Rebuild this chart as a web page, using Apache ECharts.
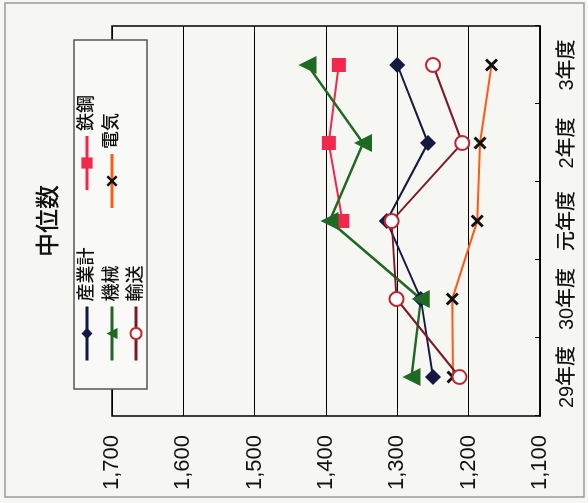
<!DOCTYPE html>
<html>
<head>
<meta charset="utf-8">
<script src="https://cdn.jsdelivr.net/npm/echarts@6/dist/echarts.min.js"></script>
<style>
  html, body { margin: 0; padding: 0; background: #f6f6f3; overflow: hidden; }
  #wrap { width: 588px; height: 503px; position: relative; overflow: hidden; }
  /* The chart is laid out upright (503 x 588) and turned a quarter turn counter-clockwise */
  #chart {
    position: absolute; left: 0; top: 0;
    width: 503px; height: 588px;
    transform-origin: 0 0;
    transform: translate(0, 503px) rotate(-90deg);
  }
</style>
</head>
<body>
<div id="wrap"><div id="chart"></div></div>
<script>
const categories = ['29年度', '30年度', '元年度', '2年度', '3年度'];
const valueTicks = { min: 1100, max: 1700, interval: 100 };

const sangyoKei = [1250, 1267, 1315, 1257, 1300];
const tekko     = [null, null, 1377, 1396, 1382];
const kikai     = [1280, 1267, 1395, 1348, 1426];
const denki     = [1222, 1223, 1188, 1184, 1168];
const yuso      = [1213, 1301, 1308, 1209, 1250];

const FONT = '"Liberation Sans", "Noto Sans CJK JP", sans-serif';
const CROSS = 'path://M0,1.6L1.6,0L5,3.4L8.4,0L10,1.6L6.6,5L10,8.4L8.4,10L5,6.6L1.6,10L0,8.4L3.4,5Z';

const chart = echarts.init(document.getElementById('chart'), null, { renderer: 'canvas' });

const legendCommon = {
  left: 141,
  padding: 0,
  itemWidth: 54,
  itemHeight: 14,
  itemGap: 56,
  z: 60,
  selectedMode: false,
  lineStyle: { width: 3 },
  textStyle: { fontFamily: FONT, fontSize: 18, fontWeight: 500, color: '#111', width: 60 }
};

chart.setOption({
  backgroundColor: '#f6f6f3',
  animation: false,
  graphic: [
    {
      type: 'rect', z: 1, silent: true,
      shape: { x: 6, y: 5, width: 494, height: 579 },
      style: { fill: 'none', stroke: '#9a9a9a', lineWidth: 1.5 }
    },
    {
      type: 'rect', z: 50, silent: true,
      shape: { x: 114, y: 74, width: 349, height: 73 },
      style: { fill: '#f9f9f7', stroke: '#555', lineWidth: 1.5 }
    },
    {
      type: 'text', z: 50, silent: true,
      x: 282, y: 49,
      style: {
        text: '中位数', fontFamily: FONT, fontSize: 24, fontWeight: 500, fill: '#111',
        align: 'center', verticalAlign: 'middle'
      }
    }
  ],
  legend: [
    Object.assign({ top: 78, data: ['産業計', '鉄鋼'] }, legendCommon),
    Object.assign({ top: 103, data: ['機械', '電気'] }, legendCommon),
    Object.assign({ top: 127, data: ['輸送'] }, legendCommon)
  ],
  grid: {
    left: 87, right: 26, top: 112, bottom: 48,
    show: true, borderColor: '#000', borderWidth: 1.5, backgroundColor: 'transparent'
  },
  xAxis: {
    type: 'category',
    data: categories,
    boundaryGap: true,
    axisLine: { show: true, lineStyle: { color: '#000', width: 1.5 } },
    axisTick: { show: true, inside: true, length: 5, lineStyle: { color: '#000', width: 1 } },
    axisLabel: { interval: 0, fontFamily: FONT, fontSize: 20, fontWeight: 500, color: '#111', margin: 17 },
    splitLine: { show: false }
  },
  yAxis: {
    type: 'value',
    min: valueTicks.min, max: valueTicks.max, interval: valueTicks.interval,
    axisLine: { show: false },
    axisTick: { show: false },
    axisLabel: {
      fontFamily: FONT, fontSize: 22, color: '#111', margin: 19,
      formatter: v => v.toLocaleString('en-US')
    },
    splitLine: { show: true, lineStyle: { color: '#000', width: 1 } }
  },
  series: [
    {
      name: '産業計', type: 'line', data: sangyoKei,
      symbol: 'diamond', symbolSize: 16,
      itemStyle: { color: '#15193f' },
      lineStyle: { color: '#15193f', width: 2 }
    },
    {
      name: '鉄鋼', type: 'line', data: tekko,
      symbol: 'rect', symbolSize: 14,
      itemStyle: { color: '#f0294c' },
      lineStyle: { color: '#f0294c', width: 2 }
    },
    {
      name: '機械', type: 'line', data: kikai,
      symbol: 'triangle', symbolSize: 18,
      itemStyle: { color: '#1f6a22' },
      lineStyle: { color: '#1f6a22', width: 2.5 }
    },
    {
      name: '電気', type: 'line', data: denki,
      symbol: CROSS, symbolSize: 13,
      itemStyle: { color: '#111' },
      lineStyle: { color: '#ff5a16', width: 2 }
    },
    {
      name: '輸送', type: 'line', data: yuso,
      symbol: 'emptyCircle', symbolSize: 14,
      itemStyle: { color: '#c0262f', borderColor: '#c0262f', borderWidth: 1.8 },
      lineStyle: { color: '#7d1a2a', width: 2 }
    }
  ]
});
</script>
</body>
</html>
